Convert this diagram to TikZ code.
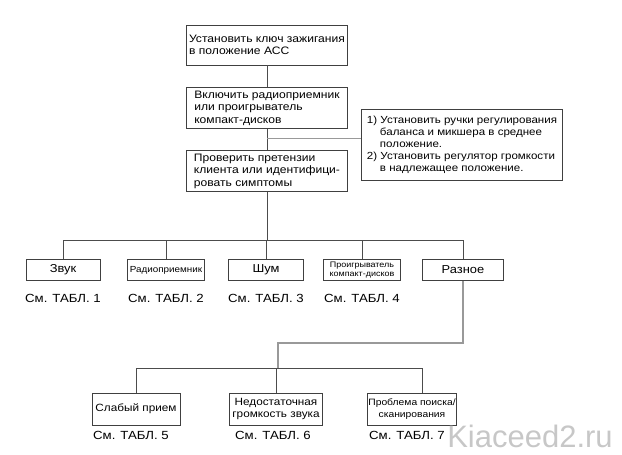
\documentclass[tikz,border=0pt]{standalone}
\usepackage{fontspec}
\setmainfont[FakeStretch=1.12]{Liberation Sans}
\newfontfamily\plainfont{Liberation Sans}
\usetikzlibrary{positioning}
\begin{document}
\begin{tikzpicture}[
    x=1pt, y=-1pt,
    box/.style={rectangle, draw=black!75, line width=0.8pt, minimum width=161pt, inner xsep=2pt, minimum height=40pt, align=left, font=\fontsize{10.8pt}{12.5pt}\selectfont},
    smallbox/.style={rectangle, draw=black!75, line width=0.8pt, minimum height=21pt, inner sep=1pt, align=center, font=\fontsize{11.5pt}{12pt}\selectfont},
    lowbox/.style={rectangle, draw=black!75, line width=0.8pt, minimum height=32pt, inner sep=1pt, align=center, font=\fontsize{10.5pt}{12.5pt}\selectfont},
    notebox/.style={rectangle, draw=black!75, line width=0.8pt, minimum width=201pt, minimum height=71pt, inner xsep=3pt, inner ysep=3pt, align=left, font=\fontsize{10.3pt}{12pt}\selectfont},
    tabref/.style={font=\fontsize{11.8pt}{14pt}\selectfont},
    link/.style={draw=black!70, line width=0.7pt},
    graylink/.style={draw=black!40, line width=1.2pt},
    watermark/.style={text=black!22, font=\plainfont\fontsize{31pt}{32pt}\selectfont}
]
    \useasboundingbox (0,0) rectangle (622,455);

    % Main chain
    \node[box] (ign) at (267,45) {Установить ключ зажигания\\в положение АСС};
    \node[box, below of=ign, node distance=63pt] (power) {Включить радиоприемник\\или проигрыватель\\компакт-дисков};
    \node[box, below of=power, node distance=63pt] (check) {Проверить претензии\\клиента или идентифици-\\ровать симптомы};

    % Note
    \node[notebox] (note) at (462,145) {1) Установить ручки регулирования\\\hspace*{13pt}баланса и микшера в среднее\\\hspace*{13pt}положение.\\2) Установить регулятор громкости\\\hspace*{13pt}в надлежащее положение.};

    % Symptom groups
    \node[smallbox, minimum width=74pt] (sound) at (63,270) {Звук};
    \node[smallbox, minimum width=77pt, right of=sound, node distance=103pt, font=\fontsize{8.8pt}{10pt}\selectfont] (tuner) {Радиоприемник};
    \node[smallbox, minimum width=75pt, right of=tuner, node distance=100pt] (noise) {Шум};
    \node[smallbox, minimum width=77pt, right of=noise, node distance=96pt, font=\fontsize{8pt}{8.5pt}\selectfont] (cd) {Проигрыватель\\компакт-дисков};
    \node[smallbox, minimum width=81pt, right of=cd, node distance=101pt] (misc) {Разное};

    \node[tabref, below of=sound, node distance=28pt] (t1) {См. ТАБЛ. 1};
    \node[tabref, below of=tuner, node distance=28pt] (t2) {См. ТАБЛ. 2};
    \node[tabref, below of=noise, node distance=28pt] (t3) {См. ТАБЛ. 3};
    \node[tabref, below of=cd, node distance=28pt] (t4) {См. ТАБЛ. 4};

    % Misc. symptoms
    \node[lowbox, minimum width=88pt] (weak) at (136,409) {Слабый прием};
    \node[lowbox, minimum width=93pt, right of=weak, node distance=140pt] (volume) {Недостаточная\\громкость звука};
    \node[lowbox, minimum width=85pt, right of=volume, node distance=136pt, font=\fontsize{9.2pt}{12.5pt}\selectfont] (scan) {Проблема поиска/\\сканирования};

    \node[tabref, below of=weak, node distance=26pt, xshift=-5pt] (t5) {См. ТАБЛ. 5};
    \node[tabref, below of=volume, node distance=26pt, xshift=-3pt] (t6) {См. ТАБЛ. 6};
    \node[tabref, below of=scan, node distance=26pt, xshift=-5pt] (t7) {См. ТАБЛ. 7};

    \node[watermark] (wm) at (530,436) {Kiaceed2.ru};

    % Connectors
    \coordinate (branch) at (267,138);
    \coordinate (bus) at (267,240);
    \coordinate (knee) at (278,343);
    \coordinate (lowbus) at (278,368);

    \draw[link] (ign) -- (power);
    \draw[link] (power) -- (check);
    \draw[graylink, line width=0.8pt] (branch) -- (branch -| note.west);
    \draw[link] (check) -- (bus);

    \draw[link] (sound.north |- bus) -- (misc.north |- bus);
    \draw[link] (sound.north |- bus) -- (sound.north);
    \draw[link] (tuner.north |- bus) -- (tuner.north);
    \draw[link] (noise.north |- bus) -- (noise.north);
    \draw[link] (cd.north |- bus) -- (cd.north);
    \draw[link] (misc.north |- bus) -- (misc.north);

    \draw[graylink] (misc.south) |- (knee) -- (lowbus);
    \draw[link] (weak.north |- lowbus) -- ([xshift=10pt]scan.north |- lowbus);
    \draw[link] (weak.north |- lowbus) -- (weak.north);
    \draw[link] (volume.north |- lowbus) -- (volume.north);
    \draw[link] ([xshift=10pt]scan.north |- lowbus) -- ([xshift=10pt]scan.north);

\end{tikzpicture}
\end{document}
